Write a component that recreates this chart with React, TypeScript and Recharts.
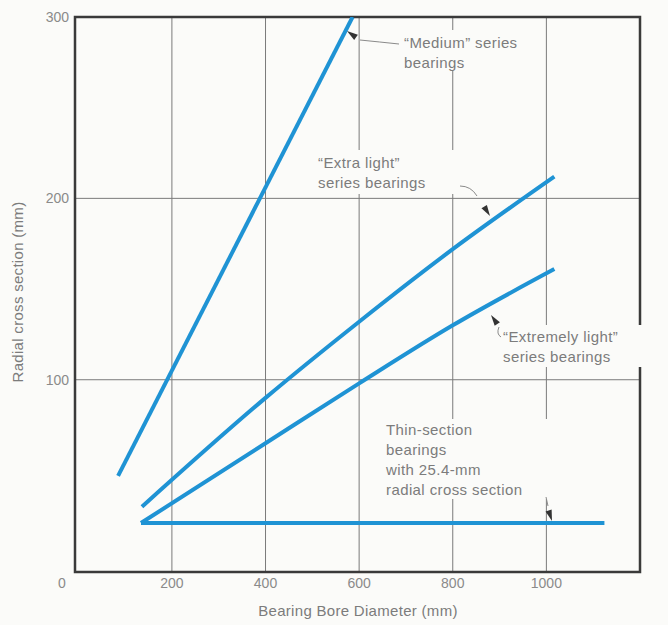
import { LineChart, Line, XAxis, YAxis, CartesianGrid, ReferenceArea } from 'recharts';

// axis setup (the printed chart has its frame a little below/left of the true zero)
const X_DOMAIN = [-7, 1200];
const Y_DOMAIN = [-6, 300];
const X_TICKS = [200, 400, 600, 800, 1000];
const Y_TICKS = [-6, 100, 200, 300];

// series: bore diameter (mm) -> radial cross section (mm)
const mediumSeries = [
  { x: 85, y: 47 },
  { x: 586, y: 300 },
];
const extraLightSeries = [
  { x: 136, y: 30 },
  { x: 400, y: 90 },
  { x: 600, y: 132 },
  { x: 800, y: 172 },
  { x: 1017, y: 212 },
];
const extremelyLightSeries = [
  { x: 134, y: 21 },
  { x: 400, y: 65 },
  { x: 600, y: 98 },
  { x: 800, y: 130 },
  { x: 1017, y: 161 },
];
const thinSectionSeries = [
  { x: 134, y: 21 },
  { x: 1124, y: 21 },
];

const BG = '#fbfbf9';
const BLUE = '#1f93d4';
const INK = '#7c7c7c';
const FONT = '"Liberation Sans", Arial, sans-serif';

function YTick(props: any) {
  const { x, y, payload } = props;
  if (payload.value < 0) {
    return (
      <text x={62} y={y + 11} textAnchor="middle" dominantBaseline="central" fill="#8a8a8a" fontSize={14} fontFamily={FONT}>
        0
      </text>
    );
  }
  return (
    <text x={x} y={y} textAnchor="end" dominantBaseline="central" fill="#8a8a8a" fontSize={14} fontFamily={FONT}>
      {payload.value}
    </text>
  );
}

function Note({ x, y, lines, box }: { x: number; y: number; lines: string[]; box: number[] }) {
  return (
    <g>
      <rect x={box[0]} y={box[1]} width={box[2]} height={box[3]} fill={BG} />
      {lines.map((l, i) => (
        <text key={i} x={x} y={y + i * 20} fill={INK} fontSize={15} fontFamily={FONT} letterSpacing={0.4}>
          {l}
        </text>
      ))}
    </g>
  );
}

function Arrow({ d, tip, angle }: { d: string; tip: number[]; angle: number }) {
  return (
    <g>
      <path d={d} fill="none" stroke="#8a8a8a" strokeWidth={1} />
      <path
        d="M0,0 L-11,-3.2 L-11,3.2 Z"
        fill="#333"
        transform={`translate(${tip[0]},${tip[1]}) rotate(${angle})`}
      />
    </g>
  );
}

export default function App() {
  return (
    <div style={{ position: 'relative', width: 668, height: 625, background: BG }}>
      <style>{'body{margin:0}'}</style>
      <LineChart width={668} height={625} margin={{ top: 17, right: 28, bottom: 0, left: 0 }}>
        <CartesianGrid stroke="#7a7a7a" strokeWidth={1} />
        <XAxis
          type="number"
          dataKey="x"
          domain={X_DOMAIN}
          ticks={X_TICKS}
          allowDataOverflow
          height={53}
          tickSize={0}
          tickMargin={6}
          axisLine={false}
          tick={{ fill: '#8a8a8a', fontSize: 14, fontFamily: FONT }}
        />
        <YAxis
          type="number"
          dataKey="y"
          domain={Y_DOMAIN}
          ticks={Y_TICKS}
          allowDataOverflow
          width={75}
          tickSize={0}
          tickMargin={6}
          axisLine={false}
          tick={<YTick />}
        />
        <ReferenceArea x1={X_DOMAIN[0]} x2={X_DOMAIN[1]} y1={Y_DOMAIN[0]} y2={Y_DOMAIN[1]} fill="none" stroke="#3a3a3a" strokeWidth={2.5} />
        <Line data={mediumSeries} dataKey="y" type="linear" stroke={BLUE} strokeWidth={4} dot={false} isAnimationActive={false} />
        <Line data={extraLightSeries} dataKey="y" type="monotone" stroke={BLUE} strokeWidth={4} dot={false} isAnimationActive={false} />
        <Line data={extremelyLightSeries} dataKey="y" type="monotone" stroke={BLUE} strokeWidth={4} dot={false} isAnimationActive={false} />
        <Line data={thinSectionSeries} dataKey="y" type="linear" stroke={BLUE} strokeWidth={4} dot={false} isAnimationActive={false} />
      </LineChart>

      <svg width={668} height={625} style={{ position: 'absolute', left: 0, top: 0, pointerEvents: 'none' }}>
        <Note x={404} y={48} lines={['\u201cMedium\u201d series', 'bearings']} box={[398, 30, 104, 40]} />
        <Arrow d="M399,44 Q380,42 360,40" tip={[347, 31]} angle={-145} />

        <Note x={318} y={168} lines={['\u201cExtra light\u201d', '  series bearings']} box={[314, 150, 148, 44]} />
        <Arrow d="M460,186 Q471,186 477,196" tip={[490, 216]} angle={58} />

        <Note x={503} y={342} lines={['\u201cExtremely light\u201d', '    series bearings']} box={[500, 325, 168, 42]} />
        <Arrow d="M501,337 Q496,334 499,327" tip={[491, 315]} angle={-125} />

        <Note x={386} y={435} lines={['Thin-section', 'bearings', 'with 25.4-mm', 'radial cross section']} box={[383, 419, 172, 80]} />
        <Arrow d="M546,497 L548,506" tip={[552, 521]} angle={72} />

        <text x={358} y={616} textAnchor="middle" fill={INK} fontSize={15} fontFamily={FONT} letterSpacing={0.3}>
          Bearing Bore Diameter (mm)
        </text>
        <text
          x={0}
          y={0}
          transform="translate(23,292) rotate(-90)"
          textAnchor="middle"
          fill={INK}
          fontSize={15}
          fontFamily={FONT}
          letterSpacing={0.3}
        >
          Radial cross section (mm)
        </text>
      </svg>
    </div>
  );
}
